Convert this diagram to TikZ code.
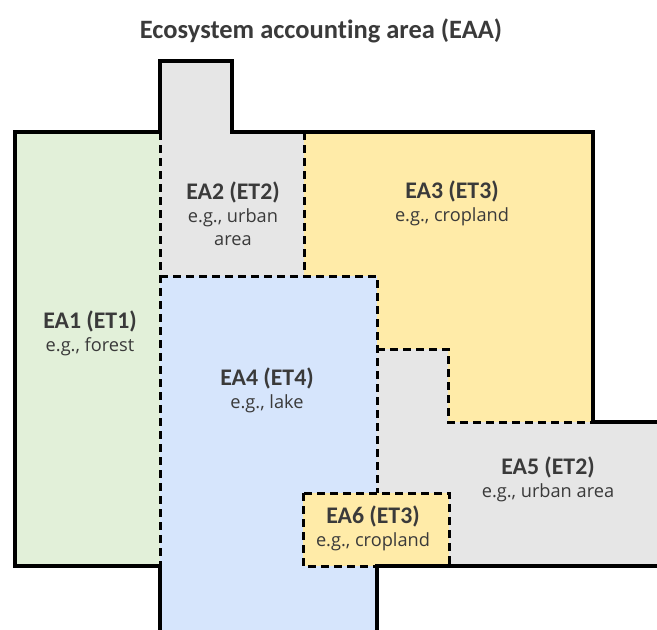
\documentclass[tikz,border=0pt]{standalone}
\usepackage{fontspec}
\setmainfont[Ligatures=NoCommon]{Carlito}
\newfontfamily\egfont{Open Sans}
\definecolor{forestgreen}{HTML}{E2F0D9}
\definecolor{urbangray}{HTML}{E6E6E6}
\definecolor{cropyellow}{HTML}{FFEBA8}
\definecolor{lakeblue}{HTML}{D6E5FC}
\definecolor{txtgray}{HTML}{3A3A3A}
\tikzset{
  border/.style={line width=4.5pt, line join=miter},
  inner border/.style={line width=3pt, dash pattern=on 8pt off 5pt},
  area label/.style={align=center, text=txtgray, inner sep=0pt,
    font=\egfont\fontsize{18.2}{23}\selectfont},
}
\newcommand{\ealabel}[2]{{\rmfamily\bfseries\fontsize{23.8}{23}\selectfont #1}\\ #2}
\begin{document}
\begin{tikzpicture}[x=1pt,y=-1pt]
	\useasboundingbox (0,0) rectangle (657,630);

	% areas
	\fill[forestgreen] (15,132) rectangle (160,566);
	\fill[urbangray] (160,61) -- (232,61) -- (232,132) -- (304,132) -- (304,276) -- (160,276) -- cycle;
	\fill[cropyellow] (304,132) -- (593,132) -- (593,422) -- (448,422) -- (448,349) -- (377,349) -- (377,276) -- (304,276) -- cycle;
	\fill[lakeblue] (160,276) rectangle (377,630);
	\fill[urbangray] (377,349) -- (448,349) -- (448,422) -- (657,422) -- (657,566) -- (377,566) -- cycle;
	\fill[cropyellow] (303,493) rectangle (449,566);

	% borders between areas
	\draw[inner border] (160,132) -- (160,566);
	\draw[inner border] (304,132) -- (304,276);
	\draw[inner border] (160,276) -- (377,276) -- (377,493);
	\draw[inner border] (377,349) -- (448,349) -- (448,422) -- (593,422);
	\draw[inner border] (303,493) rectangle (449,566);

	% accounting area
	\draw[border] (160,630) -- (160,566) -- (15,566) -- (15,132) -- (160,132) -- (160,61) -- (232,61) -- (232,132) -- (593,132) -- (593,422) -- (657,422);
	\draw[border] (657,566) -- (377,566) -- (377,630);

	\node[text=txtgray, font=\bfseries\fontsize{26.5}{30}\selectfont] (eaa) at (321,31) {Ecosystem accounting area (EAA)};
	\node[area label] (ea1) at (90,333) {\ealabel{EA1 (ET1)}{e.g., forest}};
	\node[area label] (ea2) at (233,214) {\ealabel{EA2 (ET2)}{e.g., urban\\ area}};
	\node[area label] (ea3) at (452,203) {\ealabel{EA3 (ET3)}{e.g., cropland}};
	\node[area label] (ea4) at (267,390) {\ealabel{EA4 (ET4)}{e.g., lake}};
	\node[area label] (ea5) at (548,479) {\ealabel{EA5 (ET2)}{e.g., urban area}};
	\node[area label] (ea6) at (373,528) {\ealabel{EA6 (ET3)}{e.g., cropland}};
\end{tikzpicture}
\end{document}
